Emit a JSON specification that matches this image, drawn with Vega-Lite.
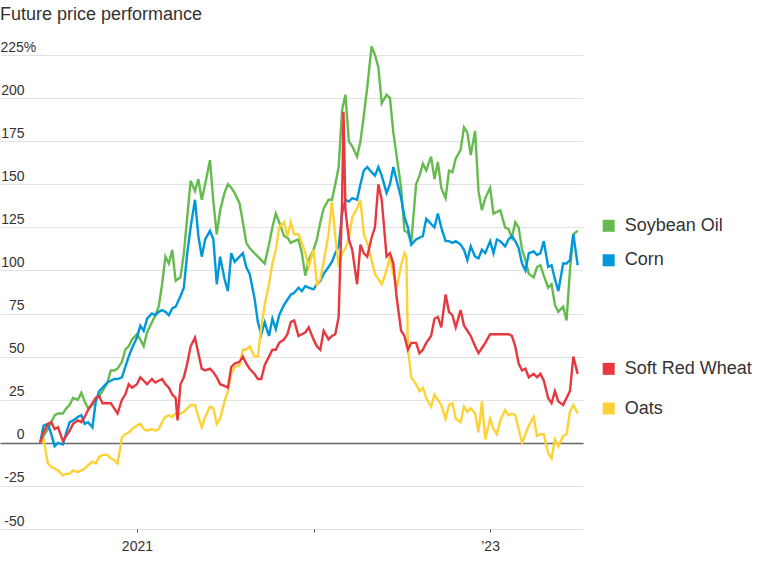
{
"$schema":"https://vega.github.io/schema/vega-lite/v6.json",
"width":583,"height":474,
"autosize":"none",
"padding":{"left":0,"top":55,"right":192,"bottom":42},
"background":"white",
"title":{"text":"Future price performance","anchor":"start","frame":"group","fontSize":18,"fontWeight":"normal","color":"#333","font":"Liberation Sans","offset":16},
"config":{"view":{"stroke":null},"font":"Liberation Sans"},
"data":{"values":[
{"d":"2020-06-15","s":"Soybean Oil","v":0},{"d":"2020-06-22","s":"Soybean Oil","v":4},{"d":"2020-07-01","s":"Soybean Oil","v":8},{"d":"2020-07-08","s":"Soybean Oil","v":12},{"d":"2020-07-15","s":"Soybean Oil","v":16},{"d":"2020-07-22","s":"Soybean Oil","v":17},{"d":"2020-08-01","s":"Soybean Oil","v":17},{"d":"2020-08-08","s":"Soybean Oil","v":20},{"d":"2020-08-15","s":"Soybean Oil","v":22},{"d":"2020-08-22","s":"Soybean Oil","v":26},{"d":"2020-09-01","s":"Soybean Oil","v":25},{"d":"2020-09-08","s":"Soybean Oil","v":29},{"d":"2020-09-15","s":"Soybean Oil","v":24},{"d":"2020-09-22","s":"Soybean Oil","v":20},{"d":"2020-10-01","s":"Soybean Oil","v":22},{"d":"2020-10-08","s":"Soybean Oil","v":26},{"d":"2020-10-15","s":"Soybean Oil","v":27},{"d":"2020-10-22","s":"Soybean Oil","v":30},{"d":"2020-11-01","s":"Soybean Oil","v":35},{"d":"2020-11-08","s":"Soybean Oil","v":42},{"d":"2020-11-15","s":"Soybean Oil","v":42},{"d":"2020-11-22","s":"Soybean Oil","v":43},{"d":"2020-12-01","s":"Soybean Oil","v":47},{"d":"2020-12-08","s":"Soybean Oil","v":54},{"d":"2020-12-15","s":"Soybean Oil","v":56},{"d":"2020-12-22","s":"Soybean Oil","v":60},
{"d":"2021-01-01","s":"Soybean Oil","v":63},{"d":"2021-01-08","s":"Soybean Oil","v":60},{"d":"2021-01-15","s":"Soybean Oil","v":56},{"d":"2021-01-22","s":"Soybean Oil","v":64},{"d":"2021-02-01","s":"Soybean Oil","v":70},{"d":"2021-02-08","s":"Soybean Oil","v":74},{"d":"2021-02-15","s":"Soybean Oil","v":79},{"d":"2021-02-22","s":"Soybean Oil","v":92},{"d":"2021-03-01","s":"Soybean Oil","v":108},{"d":"2021-03-08","s":"Soybean Oil","v":104},{"d":"2021-03-15","s":"Soybean Oil","v":112},{"d":"2021-03-22","s":"Soybean Oil","v":94},{"d":"2021-04-01","s":"Soybean Oil","v":96},{"d":"2021-04-08","s":"Soybean Oil","v":110},{"d":"2021-04-15","s":"Soybean Oil","v":131},{"d":"2021-04-22","s":"Soybean Oil","v":152},{"d":"2021-05-01","s":"Soybean Oil","v":146},{"d":"2021-05-08","s":"Soybean Oil","v":153},{"d":"2021-05-15","s":"Soybean Oil","v":141},{"d":"2021-05-22","s":"Soybean Oil","v":150},{"d":"2021-06-01","s":"Soybean Oil","v":164},{"d":"2021-06-08","s":"Soybean Oil","v":140},{"d":"2021-06-15","s":"Soybean Oil","v":121},{"d":"2021-06-22","s":"Soybean Oil","v":135},{"d":"2021-07-01","s":"Soybean Oil","v":145},{"d":"2021-07-08","s":"Soybean Oil","v":150},{"d":"2021-07-15","s":"Soybean Oil","v":148},{"d":"2021-07-22","s":"Soybean Oil","v":145},{"d":"2021-08-01","s":"Soybean Oil","v":139},{"d":"2021-08-08","s":"Soybean Oil","v":128},{"d":"2021-08-15","s":"Soybean Oil","v":116},{"d":"2021-08-22","s":"Soybean Oil","v":113},{"d":"2021-09-01","s":"Soybean Oil","v":110},{"d":"2021-09-08","s":"Soybean Oil","v":108},{"d":"2021-09-15","s":"Soybean Oil","v":106},{"d":"2021-09-22","s":"Soybean Oil","v":104},{"d":"2021-10-01","s":"Soybean Oil","v":115},{"d":"2021-10-08","s":"Soybean Oil","v":125},{"d":"2021-10-15","s":"Soybean Oil","v":133},{"d":"2021-10-22","s":"Soybean Oil","v":128},{"d":"2021-11-01","s":"Soybean Oil","v":120},{"d":"2021-11-08","s":"Soybean Oil","v":119},{"d":"2021-11-15","s":"Soybean Oil","v":116},{"d":"2021-11-22","s":"Soybean Oil","v":117},{"d":"2021-12-01","s":"Soybean Oil","v":118},{"d":"2021-12-08","s":"Soybean Oil","v":110},{"d":"2021-12-15","s":"Soybean Oil","v":97},{"d":"2021-12-22","s":"Soybean Oil","v":106},
{"d":"2022-01-01","s":"Soybean Oil","v":112},{"d":"2022-01-08","s":"Soybean Oil","v":118},{"d":"2022-01-15","s":"Soybean Oil","v":128},{"d":"2022-01-22","s":"Soybean Oil","v":136},{"d":"2022-02-01","s":"Soybean Oil","v":141},{"d":"2022-02-08","s":"Soybean Oil","v":141},{"d":"2022-02-15","s":"Soybean Oil","v":150},{"d":"2022-02-22","s":"Soybean Oil","v":160},{"d":"2022-03-01","s":"Soybean Oil","v":193},{"d":"2022-03-08","s":"Soybean Oil","v":202},{"d":"2022-03-15","s":"Soybean Oil","v":175},{"d":"2022-03-22","s":"Soybean Oil","v":172},{"d":"2022-04-01","s":"Soybean Oil","v":166},{"d":"2022-04-08","s":"Soybean Oil","v":175},{"d":"2022-04-15","s":"Soybean Oil","v":190},{"d":"2022-04-22","s":"Soybean Oil","v":206},{"d":"2022-05-01","s":"Soybean Oil","v":230},{"d":"2022-05-08","s":"Soybean Oil","v":225},{"d":"2022-05-15","s":"Soybean Oil","v":218},{"d":"2022-05-22","s":"Soybean Oil","v":197},{"d":"2022-06-01","s":"Soybean Oil","v":202},{"d":"2022-06-08","s":"Soybean Oil","v":200},{"d":"2022-06-15","s":"Soybean Oil","v":180},{"d":"2022-06-22","s":"Soybean Oil","v":166},{"d":"2022-07-01","s":"Soybean Oil","v":148},{"d":"2022-07-08","s":"Soybean Oil","v":123},{"d":"2022-07-15","s":"Soybean Oil","v":122},{"d":"2022-07-22","s":"Soybean Oil","v":116},{"d":"2022-08-01","s":"Soybean Oil","v":150},{"d":"2022-08-08","s":"Soybean Oil","v":155},{"d":"2022-08-15","s":"Soybean Oil","v":162},{"d":"2022-08-22","s":"Soybean Oil","v":158},{"d":"2022-09-01","s":"Soybean Oil","v":166},{"d":"2022-09-08","s":"Soybean Oil","v":153},{"d":"2022-09-15","s":"Soybean Oil","v":163},{"d":"2022-09-22","s":"Soybean Oil","v":148},{"d":"2022-10-01","s":"Soybean Oil","v":142},{"d":"2022-10-08","s":"Soybean Oil","v":158},{"d":"2022-10-15","s":"Soybean Oil","v":157},{"d":"2022-10-22","s":"Soybean Oil","v":165},{"d":"2022-11-01","s":"Soybean Oil","v":170},{"d":"2022-11-08","s":"Soybean Oil","v":183},{"d":"2022-11-15","s":"Soybean Oil","v":180},{"d":"2022-11-22","s":"Soybean Oil","v":167},{"d":"2022-12-01","s":"Soybean Oil","v":181},{"d":"2022-12-08","s":"Soybean Oil","v":146},{"d":"2022-12-15","s":"Soybean Oil","v":135},{"d":"2022-12-22","s":"Soybean Oil","v":142},
{"d":"2023-01-01","s":"Soybean Oil","v":148},{"d":"2023-01-08","s":"Soybean Oil","v":133},{"d":"2023-01-15","s":"Soybean Oil","v":134},{"d":"2023-01-22","s":"Soybean Oil","v":135},{"d":"2023-02-01","s":"Soybean Oil","v":125},{"d":"2023-02-08","s":"Soybean Oil","v":124},{"d":"2023-02-15","s":"Soybean Oil","v":119},{"d":"2023-02-22","s":"Soybean Oil","v":128},{"d":"2023-03-01","s":"Soybean Oil","v":125},{"d":"2023-03-08","s":"Soybean Oil","v":112},{"d":"2023-03-15","s":"Soybean Oil","v":106},{"d":"2023-03-22","s":"Soybean Oil","v":98},{"d":"2023-04-01","s":"Soybean Oil","v":96},{"d":"2023-04-08","s":"Soybean Oil","v":102},{"d":"2023-04-15","s":"Soybean Oil","v":103},{"d":"2023-04-22","s":"Soybean Oil","v":97},{"d":"2023-05-01","s":"Soybean Oil","v":90},{"d":"2023-05-08","s":"Soybean Oil","v":92},{"d":"2023-05-15","s":"Soybean Oil","v":80},{"d":"2023-05-22","s":"Soybean Oil","v":76},{"d":"2023-06-01","s":"Soybean Oil","v":79},{"d":"2023-06-08","s":"Soybean Oil","v":71},{"d":"2023-06-15","s":"Soybean Oil","v":100},{"d":"2023-06-22","s":"Soybean Oil","v":121},{"d":"2023-07-01","s":"Soybean Oil","v":123},

{"d":"2020-06-15","s":"Corn","v":0},{"d":"2020-06-22","s":"Corn","v":10},{"d":"2020-07-01","s":"Corn","v":11},{"d":"2020-07-08","s":"Corn","v":5},{"d":"2020-07-15","s":"Corn","v":-2},{"d":"2020-07-22","s":"Corn","v":0},{"d":"2020-08-01","s":"Corn","v":-1},{"d":"2020-08-08","s":"Corn","v":6},{"d":"2020-08-15","s":"Corn","v":12},{"d":"2020-08-22","s":"Corn","v":13},{"d":"2020-09-01","s":"Corn","v":15},{"d":"2020-09-08","s":"Corn","v":16},{"d":"2020-09-15","s":"Corn","v":11},{"d":"2020-09-22","s":"Corn","v":12},{"d":"2020-10-01","s":"Corn","v":9},{"d":"2020-10-08","s":"Corn","v":24},{"d":"2020-10-15","s":"Corn","v":30},{"d":"2020-10-22","s":"Corn","v":32},{"d":"2020-11-01","s":"Corn","v":35},{"d":"2020-11-08","s":"Corn","v":36},{"d":"2020-11-15","s":"Corn","v":37},{"d":"2020-11-22","s":"Corn","v":37},{"d":"2020-12-01","s":"Corn","v":38},{"d":"2020-12-08","s":"Corn","v":44},{"d":"2020-12-15","s":"Corn","v":50},{"d":"2020-12-22","s":"Corn","v":55},
{"d":"2021-01-01","s":"Corn","v":61},{"d":"2021-01-08","s":"Corn","v":68},{"d":"2021-01-15","s":"Corn","v":65},{"d":"2021-01-22","s":"Corn","v":72},{"d":"2021-02-01","s":"Corn","v":75},{"d":"2021-02-08","s":"Corn","v":74},{"d":"2021-02-15","s":"Corn","v":76},{"d":"2021-02-22","s":"Corn","v":77},{"d":"2021-03-01","s":"Corn","v":76},{"d":"2021-03-08","s":"Corn","v":74},{"d":"2021-03-15","s":"Corn","v":78},{"d":"2021-03-22","s":"Corn","v":79},{"d":"2021-04-01","s":"Corn","v":85},{"d":"2021-04-08","s":"Corn","v":90},{"d":"2021-04-15","s":"Corn","v":110},{"d":"2021-04-22","s":"Corn","v":125},{"d":"2021-05-01","s":"Corn","v":141},{"d":"2021-05-08","s":"Corn","v":120},{"d":"2021-05-15","s":"Corn","v":108},{"d":"2021-05-22","s":"Corn","v":118},{"d":"2021-06-01","s":"Corn","v":123},{"d":"2021-06-08","s":"Corn","v":118},{"d":"2021-06-15","s":"Corn","v":92},{"d":"2021-06-22","s":"Corn","v":108},{"d":"2021-07-01","s":"Corn","v":95},{"d":"2021-07-08","s":"Corn","v":88},{"d":"2021-07-15","s":"Corn","v":110},{"d":"2021-07-22","s":"Corn","v":105},{"d":"2021-08-01","s":"Corn","v":108},{"d":"2021-08-08","s":"Corn","v":110},{"d":"2021-08-15","s":"Corn","v":102},{"d":"2021-08-22","s":"Corn","v":98},{"d":"2021-09-01","s":"Corn","v":84},{"d":"2021-09-08","s":"Corn","v":70},{"d":"2021-09-15","s":"Corn","v":63},{"d":"2021-09-22","s":"Corn","v":70},{"d":"2021-10-01","s":"Corn","v":62},{"d":"2021-10-08","s":"Corn","v":72},{"d":"2021-10-15","s":"Corn","v":66},{"d":"2021-10-22","s":"Corn","v":74},{"d":"2021-11-01","s":"Corn","v":80},{"d":"2021-11-08","s":"Corn","v":83},{"d":"2021-11-15","s":"Corn","v":86},{"d":"2021-11-22","s":"Corn","v":87},{"d":"2021-12-01","s":"Corn","v":90},{"d":"2021-12-08","s":"Corn","v":88},{"d":"2021-12-15","s":"Corn","v":91},{"d":"2021-12-22","s":"Corn","v":90},
{"d":"2022-01-01","s":"Corn","v":89},{"d":"2022-01-08","s":"Corn","v":92},{"d":"2022-01-15","s":"Corn","v":94},{"d":"2022-01-22","s":"Corn","v":98},{"d":"2022-02-01","s":"Corn","v":102},{"d":"2022-02-08","s":"Corn","v":105},{"d":"2022-02-15","s":"Corn","v":110},{"d":"2022-02-22","s":"Corn","v":114},{"d":"2022-03-01","s":"Corn","v":133},{"d":"2022-03-08","s":"Corn","v":141},{"d":"2022-03-15","s":"Corn","v":140},{"d":"2022-03-22","s":"Corn","v":142},{"d":"2022-04-01","s":"Corn","v":141},{"d":"2022-04-08","s":"Corn","v":150},{"d":"2022-04-15","s":"Corn","v":158},{"d":"2022-04-22","s":"Corn","v":160},{"d":"2022-05-01","s":"Corn","v":157},{"d":"2022-05-08","s":"Corn","v":155},{"d":"2022-05-15","s":"Corn","v":160},{"d":"2022-05-22","s":"Corn","v":155},{"d":"2022-06-01","s":"Corn","v":145},{"d":"2022-06-08","s":"Corn","v":150},{"d":"2022-06-15","s":"Corn","v":160},{"d":"2022-06-22","s":"Corn","v":152},{"d":"2022-07-01","s":"Corn","v":142},{"d":"2022-07-08","s":"Corn","v":131},{"d":"2022-07-15","s":"Corn","v":125},{"d":"2022-07-22","s":"Corn","v":115},{"d":"2022-08-01","s":"Corn","v":118},{"d":"2022-08-08","s":"Corn","v":119},{"d":"2022-08-15","s":"Corn","v":120},{"d":"2022-08-22","s":"Corn","v":130},{"d":"2022-09-01","s":"Corn","v":127},{"d":"2022-09-08","s":"Corn","v":125},{"d":"2022-09-15","s":"Corn","v":133},{"d":"2022-09-22","s":"Corn","v":125},{"d":"2022-10-01","s":"Corn","v":117},{"d":"2022-10-08","s":"Corn","v":117},{"d":"2022-10-15","s":"Corn","v":116},{"d":"2022-10-22","s":"Corn","v":117},{"d":"2022-11-01","s":"Corn","v":115},{"d":"2022-11-08","s":"Corn","v":112},{"d":"2022-11-15","s":"Corn","v":106},{"d":"2022-11-22","s":"Corn","v":114},{"d":"2022-12-01","s":"Corn","v":108},{"d":"2022-12-08","s":"Corn","v":107},{"d":"2022-12-15","s":"Corn","v":112},{"d":"2022-12-22","s":"Corn","v":110},
{"d":"2023-01-01","s":"Corn","v":117},{"d":"2023-01-08","s":"Corn","v":110},{"d":"2023-01-15","s":"Corn","v":118},{"d":"2023-01-22","s":"Corn","v":117},{"d":"2023-02-01","s":"Corn","v":114},{"d":"2023-02-08","s":"Corn","v":118},{"d":"2023-02-15","s":"Corn","v":120},{"d":"2023-02-22","s":"Corn","v":117},{"d":"2023-03-01","s":"Corn","v":113},{"d":"2023-03-08","s":"Corn","v":104},{"d":"2023-03-15","s":"Corn","v":100},{"d":"2023-03-22","s":"Corn","v":110},{"d":"2023-04-01","s":"Corn","v":111},{"d":"2023-04-08","s":"Corn","v":109},{"d":"2023-04-15","s":"Corn","v":110},{"d":"2023-04-22","s":"Corn","v":117},{"d":"2023-05-01","s":"Corn","v":102},{"d":"2023-05-08","s":"Corn","v":103},{"d":"2023-05-15","s":"Corn","v":95},{"d":"2023-05-22","s":"Corn","v":88},{"d":"2023-06-01","s":"Corn","v":104},{"d":"2023-06-08","s":"Corn","v":104},{"d":"2023-06-15","s":"Corn","v":106},{"d":"2023-06-22","s":"Corn","v":121},{"d":"2023-07-01","s":"Corn","v":103},

{"d":"2020-06-15","s":"Oats","v":0},{"d":"2020-06-22","s":"Oats","v":2},{"d":"2020-07-01","s":"Oats","v":-12},{"d":"2020-07-08","s":"Oats","v":-14},{"d":"2020-07-15","s":"Oats","v":-15},{"d":"2020-07-22","s":"Oats","v":-16},{"d":"2020-08-01","s":"Oats","v":-19},{"d":"2020-08-08","s":"Oats","v":-18},{"d":"2020-08-15","s":"Oats","v":-18},{"d":"2020-08-22","s":"Oats","v":-16},{"d":"2020-09-01","s":"Oats","v":-17},{"d":"2020-09-08","s":"Oats","v":-16},{"d":"2020-09-15","s":"Oats","v":-15},{"d":"2020-09-22","s":"Oats","v":-13},{"d":"2020-10-01","s":"Oats","v":-11},{"d":"2020-10-08","s":"Oats","v":-12},{"d":"2020-10-15","s":"Oats","v":-8},{"d":"2020-10-22","s":"Oats","v":-7},{"d":"2020-11-01","s":"Oats","v":-7},{"d":"2020-11-08","s":"Oats","v":-9},{"d":"2020-11-15","s":"Oats","v":-10},{"d":"2020-11-22","s":"Oats","v":-12},{"d":"2020-12-01","s":"Oats","v":3},{"d":"2020-12-08","s":"Oats","v":5},{"d":"2020-12-15","s":"Oats","v":6},{"d":"2020-12-22","s":"Oats","v":8},
{"d":"2021-01-01","s":"Oats","v":10},{"d":"2021-01-08","s":"Oats","v":11},{"d":"2021-01-15","s":"Oats","v":8},{"d":"2021-01-22","s":"Oats","v":7},{"d":"2021-02-01","s":"Oats","v":8},{"d":"2021-02-08","s":"Oats","v":7},{"d":"2021-02-15","s":"Oats","v":8},{"d":"2021-02-22","s":"Oats","v":12},{"d":"2021-03-01","s":"Oats","v":15},{"d":"2021-03-08","s":"Oats","v":16},{"d":"2021-03-15","s":"Oats","v":15},{"d":"2021-03-22","s":"Oats","v":17},{"d":"2021-04-01","s":"Oats","v":17},{"d":"2021-04-08","s":"Oats","v":18},{"d":"2021-04-15","s":"Oats","v":20},{"d":"2021-04-22","s":"Oats","v":22},{"d":"2021-05-01","s":"Oats","v":22},{"d":"2021-05-08","s":"Oats","v":15},{"d":"2021-05-15","s":"Oats","v":9},{"d":"2021-05-22","s":"Oats","v":15},{"d":"2021-06-01","s":"Oats","v":21},{"d":"2021-06-08","s":"Oats","v":20},{"d":"2021-06-15","s":"Oats","v":11},{"d":"2021-06-22","s":"Oats","v":14},{"d":"2021-07-01","s":"Oats","v":24},{"d":"2021-07-08","s":"Oats","v":30},{"d":"2021-07-15","s":"Oats","v":40},{"d":"2021-07-22","s":"Oats","v":44},{"d":"2021-08-01","s":"Oats","v":45},{"d":"2021-08-08","s":"Oats","v":54},{"d":"2021-08-15","s":"Oats","v":54},{"d":"2021-08-22","s":"Oats","v":56},{"d":"2021-09-01","s":"Oats","v":50},{"d":"2021-09-08","s":"Oats","v":50},{"d":"2021-09-15","s":"Oats","v":67},{"d":"2021-09-22","s":"Oats","v":80},{"d":"2021-10-01","s":"Oats","v":92},{"d":"2021-10-08","s":"Oats","v":104},{"d":"2021-10-15","s":"Oats","v":112},{"d":"2021-10-22","s":"Oats","v":125},{"d":"2021-11-01","s":"Oats","v":128},{"d":"2021-11-08","s":"Oats","v":120},{"d":"2021-11-15","s":"Oats","v":128},{"d":"2021-11-22","s":"Oats","v":121},{"d":"2021-12-01","s":"Oats","v":121},{"d":"2021-12-08","s":"Oats","v":116},{"d":"2021-12-15","s":"Oats","v":110},{"d":"2021-12-22","s":"Oats","v":102},
{"d":"2022-01-01","s":"Oats","v":112},{"d":"2022-01-08","s":"Oats","v":92},{"d":"2022-01-15","s":"Oats","v":95},{"d":"2022-01-22","s":"Oats","v":105},{"d":"2022-02-01","s":"Oats","v":121},{"d":"2022-02-08","s":"Oats","v":140},{"d":"2022-02-15","s":"Oats","v":120},{"d":"2022-02-22","s":"Oats","v":102},{"d":"2022-03-01","s":"Oats","v":110},{"d":"2022-03-08","s":"Oats","v":113},{"d":"2022-03-15","s":"Oats","v":118},{"d":"2022-03-22","s":"Oats","v":131},{"d":"2022-04-01","s":"Oats","v":136},{"d":"2022-04-08","s":"Oats","v":141},{"d":"2022-04-15","s":"Oats","v":121},{"d":"2022-04-22","s":"Oats","v":116},{"d":"2022-05-01","s":"Oats","v":106},{"d":"2022-05-08","s":"Oats","v":98},{"d":"2022-05-15","s":"Oats","v":95},{"d":"2022-05-22","s":"Oats","v":92},{"d":"2022-06-01","s":"Oats","v":100},{"d":"2022-06-08","s":"Oats","v":108},{"d":"2022-06-15","s":"Oats","v":98},{"d":"2022-06-22","s":"Oats","v":90},{"d":"2022-07-01","s":"Oats","v":103},{"d":"2022-07-08","s":"Oats","v":110},{"d":"2022-07-12","s":"Oats","v":108},{"d":"2022-07-15","s":"Oats","v":55},{"d":"2022-07-22","s":"Oats","v":38},{"d":"2022-08-01","s":"Oats","v":34},{"d":"2022-08-08","s":"Oats","v":30},{"d":"2022-08-15","s":"Oats","v":32},{"d":"2022-08-22","s":"Oats","v":26},{"d":"2022-09-01","s":"Oats","v":21},{"d":"2022-09-08","s":"Oats","v":28},{"d":"2022-09-15","s":"Oats","v":25},{"d":"2022-09-22","s":"Oats","v":22},{"d":"2022-10-01","s":"Oats","v":14},{"d":"2022-10-08","s":"Oats","v":22},{"d":"2022-10-15","s":"Oats","v":23},{"d":"2022-10-22","s":"Oats","v":14},{"d":"2022-11-01","s":"Oats","v":12},{"d":"2022-11-08","s":"Oats","v":21},{"d":"2022-11-15","s":"Oats","v":18},{"d":"2022-11-22","s":"Oats","v":20},{"d":"2022-12-01","s":"Oats","v":17},{"d":"2022-12-08","s":"Oats","v":6},{"d":"2022-12-15","s":"Oats","v":24},{"d":"2022-12-22","s":"Oats","v":2},
{"d":"2023-01-01","s":"Oats","v":14},{"d":"2023-01-08","s":"Oats","v":8},{"d":"2023-01-15","s":"Oats","v":5},{"d":"2023-01-22","s":"Oats","v":13},{"d":"2023-02-01","s":"Oats","v":19},{"d":"2023-02-08","s":"Oats","v":16},{"d":"2023-02-15","s":"Oats","v":17},{"d":"2023-02-22","s":"Oats","v":16},{"d":"2023-03-01","s":"Oats","v":8},{"d":"2023-03-08","s":"Oats","v":0},{"d":"2023-03-15","s":"Oats","v":5},{"d":"2023-03-22","s":"Oats","v":10},{"d":"2023-04-01","s":"Oats","v":15},{"d":"2023-04-08","s":"Oats","v":4},{"d":"2023-04-15","s":"Oats","v":5},{"d":"2023-04-22","s":"Oats","v":5},{"d":"2023-05-01","s":"Oats","v":-6},{"d":"2023-05-08","s":"Oats","v":-9},{"d":"2023-05-15","s":"Oats","v":2},{"d":"2023-05-22","s":"Oats","v":-2},{"d":"2023-06-01","s":"Oats","v":4},{"d":"2023-06-08","s":"Oats","v":5},{"d":"2023-06-15","s":"Oats","v":18},{"d":"2023-06-22","s":"Oats","v":22},{"d":"2023-07-01","s":"Oats","v":17},

{"d":"2020-06-15","s":"Soft Red Wheat","v":0},{"d":"2020-06-22","s":"Soft Red Wheat","v":6},{"d":"2020-07-01","s":"Soft Red Wheat","v":11},{"d":"2020-07-08","s":"Soft Red Wheat","v":12},{"d":"2020-07-15","s":"Soft Red Wheat","v":8},{"d":"2020-07-22","s":"Soft Red Wheat","v":9},{"d":"2020-08-01","s":"Soft Red Wheat","v":1},{"d":"2020-08-08","s":"Soft Red Wheat","v":4},{"d":"2020-08-15","s":"Soft Red Wheat","v":7},{"d":"2020-08-22","s":"Soft Red Wheat","v":11},{"d":"2020-09-01","s":"Soft Red Wheat","v":13},{"d":"2020-09-08","s":"Soft Red Wheat","v":12},{"d":"2020-09-15","s":"Soft Red Wheat","v":15},{"d":"2020-09-22","s":"Soft Red Wheat","v":19},{"d":"2020-10-01","s":"Soft Red Wheat","v":23},{"d":"2020-10-08","s":"Soft Red Wheat","v":26},{"d":"2020-10-15","s":"Soft Red Wheat","v":27},{"d":"2020-10-22","s":"Soft Red Wheat","v":23},{"d":"2020-11-01","s":"Soft Red Wheat","v":23},{"d":"2020-11-08","s":"Soft Red Wheat","v":23},{"d":"2020-11-15","s":"Soft Red Wheat","v":20},{"d":"2020-11-22","s":"Soft Red Wheat","v":17},{"d":"2020-12-01","s":"Soft Red Wheat","v":25},{"d":"2020-12-08","s":"Soft Red Wheat","v":28},{"d":"2020-12-15","s":"Soft Red Wheat","v":34},{"d":"2020-12-22","s":"Soft Red Wheat","v":32},
{"d":"2021-01-01","s":"Soft Red Wheat","v":34},{"d":"2021-01-08","s":"Soft Red Wheat","v":38},{"d":"2021-01-15","s":"Soft Red Wheat","v":36},{"d":"2021-01-22","s":"Soft Red Wheat","v":34},{"d":"2021-02-01","s":"Soft Red Wheat","v":37},{"d":"2021-02-08","s":"Soft Red Wheat","v":35},{"d":"2021-02-15","s":"Soft Red Wheat","v":36},{"d":"2021-02-22","s":"Soft Red Wheat","v":37},{"d":"2021-03-01","s":"Soft Red Wheat","v":34},{"d":"2021-03-08","s":"Soft Red Wheat","v":32},{"d":"2021-03-15","s":"Soft Red Wheat","v":28},{"d":"2021-03-22","s":"Soft Red Wheat","v":26},{"d":"2021-03-26","s":"Soft Red Wheat","v":13},{"d":"2021-04-01","s":"Soft Red Wheat","v":34},{"d":"2021-04-08","s":"Soft Red Wheat","v":38},{"d":"2021-04-15","s":"Soft Red Wheat","v":46},{"d":"2021-04-22","s":"Soft Red Wheat","v":56},{"d":"2021-05-01","s":"Soft Red Wheat","v":61},{"d":"2021-05-08","s":"Soft Red Wheat","v":52},{"d":"2021-05-15","s":"Soft Red Wheat","v":43},{"d":"2021-05-22","s":"Soft Red Wheat","v":42},{"d":"2021-06-01","s":"Soft Red Wheat","v":43},{"d":"2021-06-08","s":"Soft Red Wheat","v":41},{"d":"2021-06-15","s":"Soft Red Wheat","v":38},{"d":"2021-06-22","s":"Soft Red Wheat","v":34},{"d":"2021-07-01","s":"Soft Red Wheat","v":33},{"d":"2021-07-08","s":"Soft Red Wheat","v":32},{"d":"2021-07-15","s":"Soft Red Wheat","v":44},{"d":"2021-07-22","s":"Soft Red Wheat","v":46},{"d":"2021-08-01","s":"Soft Red Wheat","v":47},{"d":"2021-08-08","s":"Soft Red Wheat","v":50},{"d":"2021-08-15","s":"Soft Red Wheat","v":46},{"d":"2021-08-22","s":"Soft Red Wheat","v":43},{"d":"2021-09-01","s":"Soft Red Wheat","v":40},{"d":"2021-09-08","s":"Soft Red Wheat","v":37},{"d":"2021-09-15","s":"Soft Red Wheat","v":37},{"d":"2021-09-22","s":"Soft Red Wheat","v":45},{"d":"2021-10-01","s":"Soft Red Wheat","v":50},{"d":"2021-10-08","s":"Soft Red Wheat","v":54},{"d":"2021-10-15","s":"Soft Red Wheat","v":54},{"d":"2021-10-22","s":"Soft Red Wheat","v":58},{"d":"2021-11-01","s":"Soft Red Wheat","v":60},{"d":"2021-11-08","s":"Soft Red Wheat","v":63},{"d":"2021-11-15","s":"Soft Red Wheat","v":70},{"d":"2021-11-22","s":"Soft Red Wheat","v":71},{"d":"2021-12-01","s":"Soft Red Wheat","v":62},{"d":"2021-12-08","s":"Soft Red Wheat","v":63},{"d":"2021-12-15","s":"Soft Red Wheat","v":64},{"d":"2021-12-22","s":"Soft Red Wheat","v":67},
{"d":"2022-01-01","s":"Soft Red Wheat","v":60},{"d":"2022-01-08","s":"Soft Red Wheat","v":56},{"d":"2022-01-15","s":"Soft Red Wheat","v":54},{"d":"2022-01-22","s":"Soft Red Wheat","v":65},{"d":"2022-02-01","s":"Soft Red Wheat","v":60},{"d":"2022-02-08","s":"Soft Red Wheat","v":62},{"d":"2022-02-15","s":"Soft Red Wheat","v":63},{"d":"2022-02-22","s":"Soft Red Wheat","v":73},{"d":"2022-03-01","s":"Soft Red Wheat","v":140},{"d":"2022-03-04","s":"Soft Red Wheat","v":192},{"d":"2022-03-08","s":"Soft Red Wheat","v":135},{"d":"2022-03-15","s":"Soft Red Wheat","v":118},{"d":"2022-03-22","s":"Soft Red Wheat","v":112},{"d":"2022-04-01","s":"Soft Red Wheat","v":92},{"d":"2022-04-08","s":"Soft Red Wheat","v":115},{"d":"2022-04-15","s":"Soft Red Wheat","v":110},{"d":"2022-04-22","s":"Soft Red Wheat","v":108},{"d":"2022-05-01","s":"Soft Red Wheat","v":119},{"d":"2022-05-08","s":"Soft Red Wheat","v":125},{"d":"2022-05-15","s":"Soft Red Wheat","v":150},{"d":"2022-05-22","s":"Soft Red Wheat","v":141},{"d":"2022-06-01","s":"Soft Red Wheat","v":108},{"d":"2022-06-08","s":"Soft Red Wheat","v":110},{"d":"2022-06-15","s":"Soft Red Wheat","v":104},{"d":"2022-06-22","s":"Soft Red Wheat","v":84},{"d":"2022-07-01","s":"Soft Red Wheat","v":65},{"d":"2022-07-08","s":"Soft Red Wheat","v":62},{"d":"2022-07-15","s":"Soft Red Wheat","v":54},{"d":"2022-07-22","s":"Soft Red Wheat","v":58},{"d":"2022-08-01","s":"Soft Red Wheat","v":58},{"d":"2022-08-08","s":"Soft Red Wheat","v":52},{"d":"2022-08-15","s":"Soft Red Wheat","v":54},{"d":"2022-08-22","s":"Soft Red Wheat","v":58},{"d":"2022-09-01","s":"Soft Red Wheat","v":62},{"d":"2022-09-08","s":"Soft Red Wheat","v":72},{"d":"2022-09-15","s":"Soft Red Wheat","v":73},{"d":"2022-09-22","s":"Soft Red Wheat","v":67},{"d":"2022-10-01","s":"Soft Red Wheat","v":86},{"d":"2022-10-08","s":"Soft Red Wheat","v":76},{"d":"2022-10-15","s":"Soft Red Wheat","v":74},{"d":"2022-10-22","s":"Soft Red Wheat","v":67},{"d":"2022-11-01","s":"Soft Red Wheat","v":77},{"d":"2022-11-08","s":"Soft Red Wheat","v":68},{"d":"2022-11-15","s":"Soft Red Wheat","v":65},{"d":"2022-11-22","s":"Soft Red Wheat","v":62},{"d":"2022-12-01","s":"Soft Red Wheat","v":56},{"d":"2022-12-08","s":"Soft Red Wheat","v":52},{"d":"2022-12-15","s":"Soft Red Wheat","v":55},{"d":"2022-12-22","s":"Soft Red Wheat","v":58},
{"d":"2023-01-01","s":"Soft Red Wheat","v":63},{"d":"2023-01-08","s":"Soft Red Wheat","v":63},{"d":"2023-01-15","s":"Soft Red Wheat","v":63},{"d":"2023-01-22","s":"Soft Red Wheat","v":63},{"d":"2023-02-01","s":"Soft Red Wheat","v":63},{"d":"2023-02-08","s":"Soft Red Wheat","v":63},{"d":"2023-02-15","s":"Soft Red Wheat","v":62},{"d":"2023-02-22","s":"Soft Red Wheat","v":56},{"d":"2023-03-01","s":"Soft Red Wheat","v":46},{"d":"2023-03-08","s":"Soft Red Wheat","v":42},{"d":"2023-03-15","s":"Soft Red Wheat","v":43},{"d":"2023-03-22","s":"Soft Red Wheat","v":38},{"d":"2023-04-01","s":"Soft Red Wheat","v":40},{"d":"2023-04-08","s":"Soft Red Wheat","v":38},{"d":"2023-04-15","s":"Soft Red Wheat","v":40},{"d":"2023-04-22","s":"Soft Red Wheat","v":36},{"d":"2023-05-01","s":"Soft Red Wheat","v":26},{"d":"2023-05-08","s":"Soft Red Wheat","v":23},{"d":"2023-05-15","s":"Soft Red Wheat","v":30},{"d":"2023-05-22","s":"Soft Red Wheat","v":24},{"d":"2023-06-01","s":"Soft Red Wheat","v":22},{"d":"2023-06-08","s":"Soft Red Wheat","v":26},{"d":"2023-06-15","s":"Soft Red Wheat","v":30},{"d":"2023-06-22","s":"Soft Red Wheat","v":50},{"d":"2023-07-01","s":"Soft Red Wheat","v":40}
]},
"encoding":{
 "x":{"field":"d","type":"temporal",
  "scale":{"domain":[{"year":2020,"month":3,"date":24},{"year":2023,"month":7,"date":12}]},
  "axis":{"values":[{"year":2021,"month":1,"date":1},{"year":2022,"month":1,"date":1},{"year":2023,"month":1,"date":1}],
   "title":null,"domain":false,"grid":false,"ticks":true,"tickSize":3,"tickColor":"#555","tickWidth":1,
   "labelExpr":"year(datum.value) == 2021 ? '2021' : (year(datum.value) == 2023 ? '’23' : '')",
   "labelFontSize":14,"labelColor":"#333","labelPadding":7,"labelFont":"Liberation Sans"}},
 "y":{"field":"v","type":"quantitative",
  "scale":{"domain":[-50,225],"nice":false,"zero":false},
  "axis":{"values":[-50,-25,0,25,50,75,100,125,150,175,200,225],"title":null,"domain":false,"ticks":false,"grid":true,
   "gridColor":{"condition":{"test":"datum.value === 0","value":"#666666"},"value":"#e2e2e2"},
   "gridWidth":{"condition":{"test":"datum.value === 0","value":1.5},"value":1},
   "labelAlign":{"condition":{"test":"datum.value === 225","value":"left"},"value":"right"},
   "labelBaseline":"alphabetic",
   "labelPadding":{"condition":{"test":"datum.value === 225","value":0},"value":-24},
   "labelOffset":-4,
   "labelExpr":"datum.value === 225 ? '225%' : toString(datum.value)",
   "labelFontSize":14,"labelColor":"#333","labelFont":"Liberation Sans"}},
 "color":{"field":"s","type":"nominal","legend":null,
  "scale":{"domain":["Soybean Oil","Corn","Oats","Soft Red Wheat"],"range":["#66bb4f","#0098db","#fed235","#e8383f"]}}
},
"layer":[
 {"mark":{"type":"line","strokeWidth":2.4,"interpolate":"linear"}},
 {"transform":[{"aggregate":[{"op":"argmax","field":"d","as":"last"}],"groupby":["s"]}],
  "mark":{"type":"point","shape":"square","filled":true,"opacity":1,"size":144,"xOffset":31,"yOffset":-5},
  "encoding":{"x":{"field":"last.d","type":"temporal"},"y":{"field":"last.v","type":"quantitative"}}},
 {"transform":[{"aggregate":[{"op":"argmax","field":"d","as":"last"}],"groupby":["s"]}],
  "mark":{"type":"text","align":"left","baseline":"middle","dx":47,"dy":-5,"fontSize":18,"font":"Liberation Sans","color":"#333"},
  "encoding":{"x":{"field":"last.d","type":"temporal"},"y":{"field":"last.v","type":"quantitative"},"text":{"field":"s"},"color":{"value":"#333"}}}
]
}
